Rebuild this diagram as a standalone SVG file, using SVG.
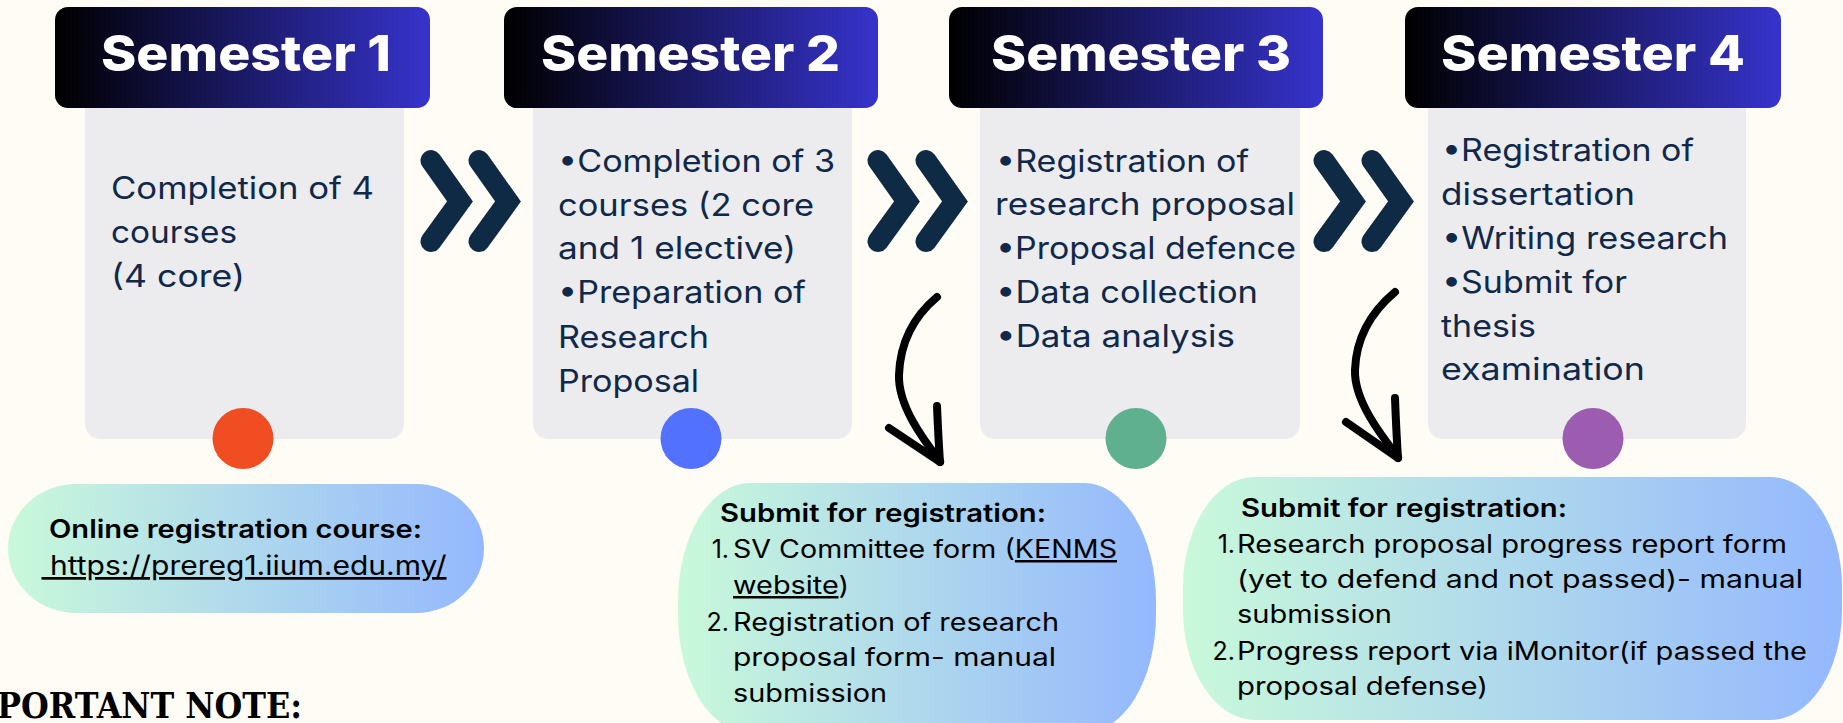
<svg xmlns="http://www.w3.org/2000/svg" width="1843" height="723" viewBox="0 0 1843 723">
<defs>
<linearGradient id="hg" x1="0" y1="0" x2="1" y2="0"><stop offset="0" stop-color="#000000"/><stop offset="1" stop-color="#3633cc"/></linearGradient>
<linearGradient id="bg" x1="0" y1="0" x2="1" y2="0"><stop offset="0" stop-color="#c9f9da"/><stop offset="1" stop-color="#94b8fe"/></linearGradient>
<style>
.hdr{fill:url(#hg)}
.body{fill:#ececee}
.ht{font-family:Inter,"Noto Sans",sans-serif;font-weight:800;font-size:49px;fill:#ffffff}
.bt{font-family:Inter,"Noto Sans",sans-serif;font-weight:400;font-size:31px;fill:#10294a}
.chev{stroke:#0f2a44;stroke-width:21;fill:none;stroke-linecap:round;stroke-linejoin:miter}
.arr{stroke:#000;stroke-width:8;fill:none;stroke-linecap:round;stroke-linejoin:round}
.bub{fill:url(#bg)}
.bh{font-family:Inter,"Noto Sans",sans-serif;font-weight:600;font-size:25px;fill:#000}
.bl{font-family:Inter,"Noto Sans",sans-serif;font-weight:400;font-size:25px;fill:#000}
.u{text-decoration:underline}
</style>
</defs>
<rect width="1843" height="723" fill="#fffcf5"/>

<g id="sem1">
<rect class="body" x="85" y="80" width="319" height="359" rx="15"/>
<rect class="hdr" x="55" y="7" width="375" height="101" rx="13"/>
<text class="ht" x="101" y="71" textLength="290" lengthAdjust="spacingAndGlyphs">Semester 1</text>
<text class="bt" x="111" y="199" textLength="263" lengthAdjust="spacingAndGlyphs">Completion of 4</text>
<text class="bt" x="111" y="243" textLength="126" lengthAdjust="spacingAndGlyphs">courses</text>
<text class="bt" x="111" y="287" textLength="134" lengthAdjust="spacingAndGlyphs">(4 core)</text>
<circle cx="243" cy="438.5" r="30.5" fill="#f14d22"/>
</g>

<g id="sem2">
<rect class="body" x="533" y="80" width="319" height="359" rx="15"/>
<rect class="hdr" x="504" y="7" width="374" height="101" rx="13"/>
<text class="ht" x="541" y="71" textLength="299" lengthAdjust="spacingAndGlyphs">Semester 2</text>
<text class="bt" x="558" y="172" textLength="277" lengthAdjust="spacingAndGlyphs">•Completion of 3</text>
<text class="bt" x="558" y="216" textLength="256" lengthAdjust="spacingAndGlyphs">courses (2 core</text>
<text class="bt" x="558" y="259" textLength="238" lengthAdjust="spacingAndGlyphs">and 1 elective)</text>
<text class="bt" x="558" y="303" textLength="248" lengthAdjust="spacingAndGlyphs">•Preparation of</text>
<text class="bt" x="558" y="348" textLength="151" lengthAdjust="spacingAndGlyphs">Research</text>
<text class="bt" x="558" y="392" textLength="141" lengthAdjust="spacingAndGlyphs">Proposal</text>
<circle cx="691" cy="438.5" r="30.5" fill="#5271ff"/>
</g>

<g id="sem3">
<rect class="body" x="980" y="80" width="320" height="359" rx="15"/>
<rect class="hdr" x="949" y="7" width="374" height="101" rx="13"/>
<text class="ht" x="991" y="71" textLength="300" lengthAdjust="spacingAndGlyphs">Semester 3</text>
<text class="bt" x="996" y="172" textLength="253" lengthAdjust="spacingAndGlyphs">•Registration of</text>
<text class="bt" x="995" y="215" textLength="300" lengthAdjust="spacingAndGlyphs">research proposal</text>
<text class="bt" x="996" y="259" textLength="300" lengthAdjust="spacingAndGlyphs">•Proposal defence</text>
<text class="bt" x="996" y="303" textLength="262" lengthAdjust="spacingAndGlyphs">•Data collection</text>
<text class="bt" x="996" y="347" textLength="239" lengthAdjust="spacingAndGlyphs">•Data analysis</text>
<circle cx="1136" cy="438.5" r="30.5" fill="#5eb08f"/>
</g>

<g id="sem4">
<rect class="body" x="1428" y="80" width="318" height="359" rx="15"/>
<rect class="hdr" x="1405" y="7" width="376" height="101" rx="13"/>
<text class="ht" x="1441" y="71" textLength="304" lengthAdjust="spacingAndGlyphs">Semester 4</text>
<text class="bt" x="1442" y="161" textLength="252" lengthAdjust="spacingAndGlyphs">•Registration of</text>
<text class="bt" x="1441" y="205" textLength="194" lengthAdjust="spacingAndGlyphs">dissertation</text>
<text class="bt" x="1442" y="249" textLength="286" lengthAdjust="spacingAndGlyphs">•Writing research</text>
<text class="bt" x="1442" y="293" textLength="185" lengthAdjust="spacingAndGlyphs">•Submit for</text>
<text class="bt" x="1441" y="337" textLength="95" lengthAdjust="spacingAndGlyphs">thesis</text>
<text class="bt" x="1441" y="380" textLength="204" lengthAdjust="spacingAndGlyphs">examination</text>
<circle cx="1593" cy="438.5" r="30.5" fill="#9c5caf"/>
</g>

<g id="connectors">
<path class="chev" d="M431,160.5 L460,201.5 L431,241.5"/>
<path class="chev" d="M479,160.5 L508,201.5 L479,241.5"/>
<path class="chev" d="M878,160.5 L907,201.5 L878,241.5"/>
<path class="chev" d="M926,160.5 L955,201.5 L926,241.5"/>
<path class="chev" d="M1324,160.5 L1353,201.5 L1324,241.5"/>
<path class="chev" d="M1372,160.5 L1401,201.5 L1372,241.5"/>
<path class="arr" d="M937,297 C912,318 900,345 899,375 C898,405 922,438 940,461"/>
<path class="arr" d="M889,428 L940,462"/>
<path class="arr" d="M937,406 C938,430 939,448 940,462"/>
<path class="arr" d="M1395,292 C1370,313 1356,340 1355,370 C1354,400 1380,434 1398,457"/>
<path class="arr" d="M1346,422 L1398,458"/>
<path class="arr" d="M1395,398 C1396,425 1397,443 1398,458"/>
</g>

<g id="note1">
<rect class="bub" x="8" y="484" width="476" height="129" rx="68" ry="64.5"/>
<text class="bh" x="49" y="538" textLength="373" lengthAdjust="spacingAndGlyphs">Online registration course:</text>
<text class="bl u" x="41.5" y="575" xml:space="preserve" textLength="405" lengthAdjust="spacingAndGlyphs" style="font-size:27px"> https://prereg1.iium.edu.my/</text>
</g>

<g id="note2">
<rect class="bub" x="678" y="483" width="478" height="250" rx="72" ry="118"/>
<text class="bh" x="720" y="522" textLength="326" lengthAdjust="spacingAndGlyphs">Submit for registration:</text>
<text class="bl" x="729" y="558" text-anchor="end">1.</text>
<text class="bl" x="733" y="558" textLength="384" lengthAdjust="spacingAndGlyphs">SV Committee form (<tspan class="u">KENMS</tspan></text>
<text class="bl" x="733" y="594" textLength="116" lengthAdjust="spacingAndGlyphs"><tspan class="u">website</tspan>)</text>
<text class="bl" x="729" y="631" text-anchor="end">2.</text>
<text class="bl" x="733" y="631" textLength="326" lengthAdjust="spacingAndGlyphs">Registration of research</text>
<text class="bl" x="733" y="666" textLength="323" lengthAdjust="spacingAndGlyphs">proposal form- manual</text>
<text class="bl" x="733" y="702" textLength="154" lengthAdjust="spacingAndGlyphs">submission</text>
</g>

<g id="note3">
<rect class="bub" x="1183" y="477" width="659" height="243" rx="72" ry="110"/>
<text class="bh" x="1241" y="517" textLength="326" lengthAdjust="spacingAndGlyphs">Submit for registration:</text>
<text class="bl" x="1235" y="553" text-anchor="end">1.</text>
<text class="bl" x="1237" y="553" textLength="550" lengthAdjust="spacingAndGlyphs">Research proposal progress report form</text>
<text class="bl" x="1237" y="588" textLength="566" lengthAdjust="spacingAndGlyphs">(yet to defend and not passed)- manual</text>
<text class="bl" x="1237" y="623" textLength="155" lengthAdjust="spacingAndGlyphs">submission</text>
<text class="bl" x="1235" y="660" text-anchor="end">2.</text>
<text class="bl" x="1237" y="660" textLength="570" lengthAdjust="spacingAndGlyphs">Progress report via iMonitor(if passed the</text>
<text class="bl" x="1237" y="695" textLength="251" lengthAdjust="spacingAndGlyphs">proposal defense)</text>
</g>

<text x="-3" y="718" textLength="305" lengthAdjust="spacingAndGlyphs" style="font-family:'DejaVu Serif',serif;font-size:36px;font-weight:700;fill:#000">PORTANT NOTE:</text>
</svg>
